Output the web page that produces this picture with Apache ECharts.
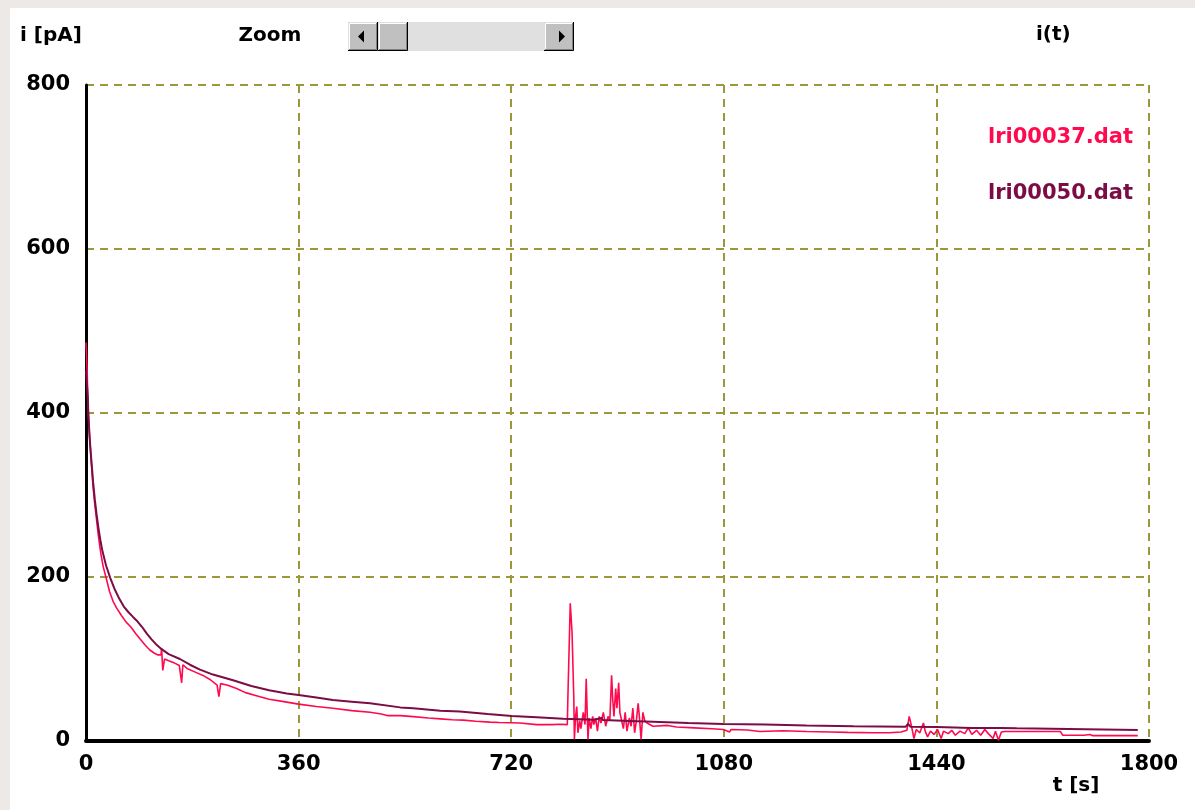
<!DOCTYPE html>
<html>
<head>
<meta charset="utf-8">
<title>i(t)</title>
<script src="https://cdn.jsdelivr.net/npm/echarts@6/dist/echarts.min.js"></script>
<style>
  html, body { margin: 0; padding: 0; background: #ffffff; }
  #chart { width: 1195px; height: 810px; }
</style>
</head>
<body>
<div id="chart"></div>
<script>
// Current decay records, [time in s, current in pA]
const lri00037 = [
  [0,486],[1,486],[2,450],[3,420],[4,398],[6,372],[8,350],[10,330],[12,310],[15,288],
  [18,269],[21,250],[25,229],[29,213],[34,199],[40,182],[46,170],[52,162],[60,153],[68,145],
  [76,139],[84,131],[92,124],[100,117],[108,111],[116,107],[122,105],[127,105],[128,113],[130,86],
  [133,100],[140,98],[150,95],[158,92],[161,90],[162,71],[164,93],[172,88],[185,84],[198,80],
  [210,75],[222,68],[224,67],[225,54],[228,70],[240,68],[255,64],[270,59],[290,55],[310,51],
  [335,48],[360,45],[390,42],[418,40],[450,37],[481,35],[500,33],[510,31],[512,33],[532,31],
  [549,30],[580,28],[600,27],[603,25],[620,26],[639,25.5],[660,24],[684,23],[700,22.5],[735,22],
  [763,20],[790,20],[802,20.5],[815,20],[816,53],[819,53],[820,168],[822,168],[823,133],[825,133],
  [826,53],[827,2],[829,30],[831,42],[833,10],[836,25],[838,15],[842,35],[845,20],[847,76],
  [849,76],[850,2],[852,28],[855,15],[858,30],[860,20],[863,28],[866,12],[869,30],[872,22],
  [876,35],[880,18],[884,30],[887,25],[890,80],[892,50],[894,30],[897,64],[899,40],[902,71],
  [904,35],[907,25],[910,15],[913,35],[916,12],[920,28],[923,18],[926,40],[929,10],[932,25],
  [935,46],[937,30],[940,2],[943,35],[946,25],[950,22],[960,18],[985,19],[1000,17],[1030,16],
  [1060,15],[1079,14],[1090,11],[1092,14],[1120,13.5],[1141,11.5],[1143,13],[1180,12.5],[1220,11.5],[1260,11],
  [1290,10.5],[1333,10],[1360,10],[1380,11],[1390,13],[1394,30],[1396,24],[1399,14],[1402,3],[1406,14],
  [1412,10],[1418,22],[1421,12],[1425,5],[1430,12],[1436,8],[1442,14],[1448,3],[1452,12],[1460,9],
  [1466,13],[1472,7],[1480,12],[1488,9],[1494,16],[1500,8],[1508,13],[1515,7],[1522,14],[1528,9],
  [1536,3],[1540,12],[1545,1],[1550,11],[1556,11.5],[1600,11.5],[1650,11.5],[1654,7],[1690,7],[1700,8],
  [1705,6.5],[1740,6.5],[1781,6.5]
];

const lri00050 = [
  [0,452],[2,452],[3,420],[4,398],[6,372],[8,352],[10,334],[12,316],[15,294],[18,276],
  [21,260],[25,242],[28,231],[34,214],[41,199],[48,186],[56,174],[64,164],[72,157],[80,151],
  [87,146],[95,139],[103,131],[111,124],[120,117],[128,112],[140,106],[159,100],[176,93],[193,87],
  [215,81],[249,74],[280,67],[310,62],[340,58],[360,56],[390,53],[418,50],[450,48],[481,46],
  [532,41],[554,40],[600,37],[633,36],[680,33],[721,30.5],[763,29],[808,27],[860,26],[873,28],
  [875,25.5],[920,24.5],[960,23.5],[1020,22],[1079,20.7],[1150,20],[1220,19],[1300,18],[1388,17.4],[1392,21],
  [1396,17.4],[1440,17],[1500,16],[1548,15.8],[1576,15.4],[1578,13.4],[1781,13.4]
];

const seriesNames = ['lri00037.dat', 'lri00050.dat'];
const seriesColors = ['#FF0A4E', '#7B0C45'];
const xTicks = { min: 0, max: 1800, step: 360 };
const yTicks = { min: 0, max: 800, step: 200 };

const FONT = 'DejaVu Sans';
const GRID_COLOR = '#9A983A';

// A raised grey button of the scroll bar
function button(x, y, w, h) {
  return [
    { type: 'rect', shape: { x: x, y: y, width: w, height: h }, style: { fill: '#C0C0C0' } },
    { type: 'polyline', shape: { points: [[x + 0.5, y + h - 1], [x + 0.5, y + 0.5], [x + w - 1, y + 0.5]] },
      style: { stroke: '#DFDFDF', lineWidth: 1, fill: null } },
    { type: 'polyline', shape: { points: [[x + 1.5, y + h - 2], [x + 1.5, y + 1.5], [x + w - 2, y + 1.5]] },
      style: { stroke: '#FFFFFF', lineWidth: 1, fill: null } },
    { type: 'polyline', shape: { points: [[x, y + h - 0.5], [x + w - 0.5, y + h - 0.5], [x + w - 0.5, y]] },
      style: { stroke: '#000000', lineWidth: 1, fill: null } },
    { type: 'polyline', shape: { points: [[x + 1, y + h - 1.5], [x + w - 1.5, y + h - 1.5], [x + w - 1.5, y + 1]] },
      style: { stroke: '#808080', lineWidth: 1, fill: null } }
  ];
}

const sbY = 22, sbH = 29;
const scrollBar = [
  { type: 'rect', shape: { x: 408, y: sbY, width: 136, height: sbH }, style: { fill: '#E0E0E0' } }
]
  .concat(button(348, sbY, 30, sbH))
  .concat(button(378, sbY, 30, sbH))
  .concat(button(544, sbY, 30, sbH))
  .concat([
    { type: 'polygon', shape: { points: [[358, 36.5], [364, 30.5], [364, 42.5]] }, style: { fill: '#000' } },
    { type: 'polygon', shape: { points: [[565, 36.5], [559, 30.5], [559, 42.5]] }, style: { fill: '#000' } }
  ]);

const textStyleBase = { fontFamily: FONT, fontWeight: 'bold', fontSize: 20, fill: '#000' };

const chart = echarts.init(document.getElementById('chart'), null, { renderer: 'canvas' });

chart.setOption({
  animation: false,
  backgroundColor: '#ffffff',
  title: {
    text: 'i(t)',
    left: 1036,
    top: 25,
    padding: 0,
    textStyle: { fontFamily: FONT, fontWeight: 'bold', fontSize: 20, color: '#000' }
  },
  legend: {
    orient: 'vertical',
    right: 57,
    top: 127,
    align: 'right',
    icon: 'none',
    itemWidth: 0,
    itemHeight: 22,
    itemGap: 34,
    padding: 0,
    selectedMode: false,
    textStyle: { fontFamily: FONT, fontWeight: 'bold', fontSize: 21 },
    data: seriesNames.map((n, i) => ({ name: n, textStyle: { color: seriesColors[i] } }))
  },
  grid: { left: 86, right: 46, top: 85, bottom: 69, containLabel: false },
  xAxis: {
    type: 'value',
    min: xTicks.min,
    max: xTicks.max,
    interval: xTicks.step,
    axisLine: { show: true, onZero: false, lineStyle: { color: '#000', width: 4 } },
    axisTick: { show: false },
    axisLabel: {
      margin: 13, color: '#000', fontFamily: FONT, fontWeight: 'bold', fontSize: 21,
      formatter: v => String(v)
    },
    splitLine: { show: true, lineStyle: { color: GRID_COLOR, width: 2, type: [8, 6] } }
  },
  yAxis: {
    type: 'value',
    min: yTicks.min,
    max: yTicks.max,
    interval: yTicks.step,
    axisLine: { show: true, onZero: false, lineStyle: { color: '#000', width: 3 } },
    axisTick: { show: false },
    axisLabel: {
      margin: 16, color: '#000', fontFamily: FONT, fontWeight: 'bold', fontSize: 21,
      formatter: v => String(v)
    },
    splitLine: { show: true, lineStyle: { color: GRID_COLOR, width: 2, type: [8, 6] } }
  },
  series: [
    {
      name: seriesNames[0],
      type: 'line',
      data: lri00037,
      showSymbol: false,
      symbol: 'none',
      color: seriesColors[0],
      lineStyle: { color: seriesColors[0], width: 1.6 },
      z: 3
    },
    {
      name: seriesNames[1],
      type: 'line',
      data: lri00050,
      showSymbol: false,
      symbol: 'none',
      color: seriesColors[1],
      lineStyle: { color: seriesColors[1], width: 2 },
      z: 3
    }
  ],
  graphic: [
    // window frame edge
    { type: 'rect', shape: { x: 0, y: 0, width: 1195, height: 8 }, style: { fill: '#ECE9E6' }, z: 0 },
    { type: 'rect', shape: { x: 0, y: 0, width: 10, height: 810 }, style: { fill: '#ECE9E6' }, z: 0 },
    { type: 'text', x: 51, y: 36, style: Object.assign({ text: 'i [pA]', align: 'center', verticalAlign: 'middle' }, textStyleBase) },
    { type: 'text', x: 270, y: 36, style: Object.assign({ text: 'Zoom', align: 'center', verticalAlign: 'middle' }, textStyleBase) },
    { type: 'text', x: 1076, y: 786, style: Object.assign({ text: 't [s]', align: 'center', verticalAlign: 'middle' }, textStyleBase) },
    { type: 'group', children: scrollBar }
  ]
});
</script>
</body>
</html>
